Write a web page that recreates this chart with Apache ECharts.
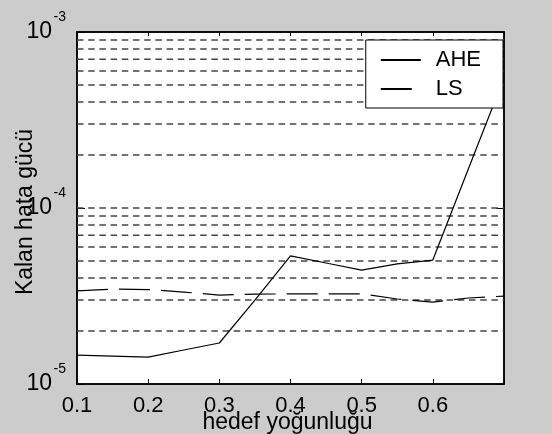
<!DOCTYPE html>
<html>
<head>
<meta charset="utf-8">
<script src="https://cdn.jsdelivr.net/npm/echarts@6/dist/echarts.min.js"></script>
<style>
  html, body { margin: 0; padding: 0; background: #cccccc; }
  #chart { width: 552px; height: 434px; }
</style>
</head>
<body>
<div id="chart"></div>
<script>
// valores
const xValues = [0.1, 0.15, 0.2, 0.25, 0.3, 0.35, 0.4, 0.45, 0.5, 0.55, 0.6, 0.65, 0.7];
const aheValues = [1.46e-5, 1.44e-5, 1.42e-5, 1.56e-5, 1.71e-5, 3.0e-5, 5.34e-5, 4.87e-5, 4.44e-5, 4.81e-5, 5.06e-5, 1.67e-4, 5.48e-4];
const lsValues = [3.38e-5, 3.46e-5, 3.44e-5, 3.33e-5, 3.2e-5, 3.24e-5, 3.25e-5, 3.25e-5, 3.25e-5, 3.04e-5, 2.92e-5, 3.08e-5, 3.16e-5];
const xTickLabels = ['0.1', '0.2', '0.3', '0.4', '0.5', '0.6'];
const yTickExponents = ['-5', '-4', '-3'];
const gridValues = [2e-5, 3e-5, 4e-5, 5e-5, 6e-5, 7e-5, 8e-5, 9e-5, 1e-4, 2e-4, 3e-4, 4e-4, 5e-4, 6e-4, 7e-4, 8e-4, 9e-4];

const fonte = "'Liberation Sans', Arial, Helvetica, sans-serif";

function expoente(v) {
    return yTickExponents[Math.round(Math.log10(v)) + 5];
}

function renderGrafico() {
    const chartDom = document.getElementById('chart');
    const myChart = echarts.init(chartDom, null, { renderer: 'canvas' });

    // eixo log base (mesma escala para os três eixos y)
    const logBase = { type: 'log', logBase: 10, min: 1e-5, max: 1e-3 };

    // linhas de grade tracejadas (grade menor do eixo log)
    const gradeSeries = gridValues.map(v => ({
        type: 'line',
        data: [[0.1, v], [0.7, v]],
        symbol: 'none',
        silent: true,
        lineStyle: { color: '#444', width: 1.5, type: [6.5, 4.7] },
        z: 1
    }));

    const option = {
        animation: false,
        backgroundColor: '#cccccc',
        grid: {
            left: 77, top: 32, right: 48, bottom: 50,
            outerBoundsMode: 'none',
            containLabel: false,
            show: true,
            backgroundColor: '#ffffff',
            borderColor: '#000',
            borderWidth: 1.5
        },
        legend: {
            data: ['AHE', 'LS'],
            orient: 'vertical',
            right: 49,
            top: 40,
            padding: [9, 22, 8, 14],
            itemWidth: 40,
            itemHeight: 14,
            itemGap: 7,
            backgroundColor: '#ffffff',
            borderColor: '#000',
            borderWidth: 1,
            borderRadius: 0,
            itemStyle: { opacity: 0 },
            textStyle: { fontSize: 22, fontFamily: fonte, color: '#000', padding: [0, 0, 0, 10] }
        },
        xAxis: [
            {
                type: 'value',
                min: 0.1,
                max: 0.7,
                interval: 0.1,
                name: 'hedef yoğunluğu',
                nameLocation: 'middle',
                nameGap: 27,
                nameMoveOverlap: false,
                nameTextStyle: { fontSize: 23, fontFamily: fonte, color: '#000', padding: [0, 6, 0, 0] },
                axisLine: { show: true, lineStyle: { color: '#000', width: 1.5 } },
                axisTick: { show: true, inside: true, length: 5, lineStyle: { color: '#000' } },
                axisLabel: {
                    margin: 11,
                    fontSize: 22,
                    fontFamily: fonte,
                    color: '#000',
                    formatter: (v) => {
                        const t = v.toFixed(1);
                        return xTickLabels.includes(t) ? t : '';
                    }
                },
                splitLine: { show: false }
            },
            {
                type: 'value',
                position: 'top',
                min: 0.1,
                max: 0.7,
                interval: 0.1,
                axisLine: { show: true, lineStyle: { color: '#000', width: 1.5 } },
                axisTick: { show: true, inside: true, length: 4, lineStyle: { color: '#000' } },
                axisLabel: { show: false },
                splitLine: { show: false }
            }
        ],
        yAxis: [
            Object.assign({}, logBase, {
                name: 'Kalan hata gücü',
                nameLocation: 'middle',
                nameRotate: 90,
                nameGap: 40,
                nameMoveOverlap: false,
                nameTextStyle: { fontSize: 23, fontFamily: fonte, color: '#000', padding: [0, 8, 0, 0] },
                axisLine: { show: true, lineStyle: { color: '#000', width: 1.5 } },
                axisTick: { show: true, inside: true, length: 8, lineStyle: { color: '#000' } },
                axisLabel: { margin: 25, fontSize: 23, fontFamily: fonte, color: '#000', formatter: () => '10' },
                splitLine: { show: false }
            }),
            Object.assign({}, logBase, {
                position: 'right',
                axisLine: { show: true, lineStyle: { color: '#000', width: 1.5 } },
                axisTick: { show: true, inside: true, length: 8, lineStyle: { color: '#000' } },
                axisLabel: { show: false },
                splitLine: { show: false }
            }),
            // expoentes (sobrescrito) das potências de 10
            Object.assign({}, logBase, {
                position: 'left',
                axisLine: { show: false },
                axisTick: { show: false },
                axisLabel: {
                    margin: 11,
                    fontSize: 14,
                    fontFamily: fonte,
                    color: '#000',
                    verticalAlign: 'bottom',
                    lineHeight: 14,
                    padding: [0, 0, 8, 0],
                    formatter: expoente
                },
                splitLine: { show: false }
            })
        ],
        series: gradeSeries.concat([
            {
                name: 'AHE',
                type: 'line',
                data: xValues.map((x, i) => [x, aheValues[i]]),
                symbol: 'none',
                color: '#000',
                lineStyle: { color: '#000', width: 1.2, type: 'solid' },
                z: 3
            },
            {
                name: 'LS',
                type: 'line',
                data: xValues.map((x, i) => [x, lsValues[i]]),
                symbol: 'none',
                color: '#000',
                lineStyle: { color: '#000', width: 1.2, type: [31, 11] },
                z: 3
            }
        ])
    };

    myChart.setOption(option);
}

document.addEventListener('DOMContentLoaded', () => {
    renderGrafico();
});
</script>
</body>
</html>
